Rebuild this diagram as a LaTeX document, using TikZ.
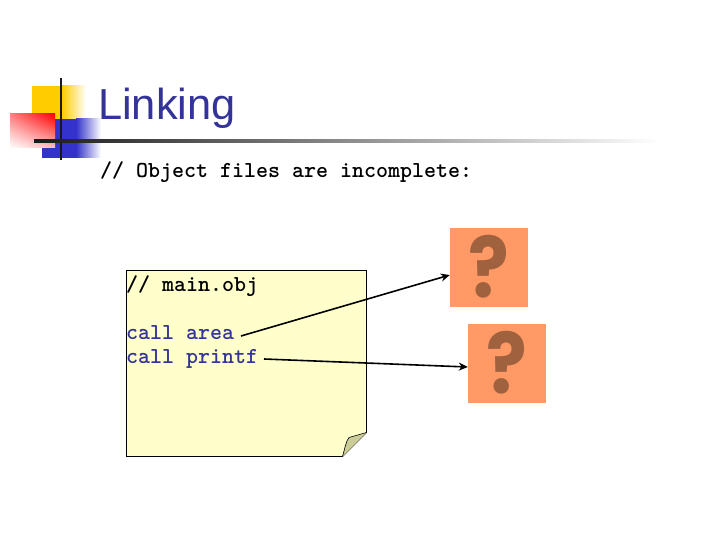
\documentclass[tikz,border=0pt]{standalone}
\usepackage{fontspec}
\setmainfont{Liberation Sans}
\newfontfamily\qfont{Poppins}
\usetikzlibrary{arrows.meta,shadings,calc}
\definecolor{titleblue}{HTML}{333399}
\definecolor{squareyellow}{HTML}{FFCC00}
\definecolor{squareblue}{HTML}{3333CC}
\definecolor{noteyellow}{HTML}{FFFFCC}
\definecolor{foldgrey}{HTML}{CCCC99}
\definecolor{boxorange}{HTML}{FF9966}
\definecolor{markbrown}{HTML}{A0613F}
\tikzset{
  x=1pt,y=-1pt,
  monotext/.style={inner sep=0pt,anchor=base west,font=\ttfamily\bfseries\fontsize{22.86}{22.86}\selectfont},
  qbox/.style={fill=boxorange,inner sep=0pt,minimum width=78pt,minimum height=79pt},
  qmark/.style={inner sep=0pt,text=markbrown,xscale=0.9,font=\qfont\bfseries\fontsize{84}{84}\selectfont},
  link/.style={line width=1.6pt,-{Stealth[length=9pt,width=8pt]}}
}
\begin{document}
\begin{tikzpicture}
\useasboundingbox (0,0) rectangle (720,540);
\fill[white] (0,0) rectangle (720,540);
% logo squares
\fill[squareyellow] (32,86) rectangle (62,119);
\shade[left color=squareyellow,right color=white] (62,86) rectangle (86,119);
\fill[squareblue] (42,119) rectangle (76,158);
\shade[left color=squareblue,right color=white] (76,119) rectangle (101,158);
\shade[shading=bilinear interpolation,lower left=white,upper left=white!50!red,upper right=red,lower right=white!75!red] (10,114) rectangle (55,148);
\draw[line width=2.5pt,black!90] (61,78) -- (61,160);
\shade[left color=black!90,right color=white] (34,139.8) rectangle (660,142.4);
% title
\node[inner sep=0pt,anchor=base west,text=titleblue,font=\fontsize{43.4}{43.4}\selectfont] (title) at (98,120) {Linking};
\node[monotext] (sub) at (100,178) {// Object files are incomplete:};
% note
\fill[noteyellow] (126.5,270.5) -- (366.5,270.5) -- (366.5,432.5) -- (342.5,456.5) -- (126.5,456.5) -- cycle;
\draw[line width=0.8pt] (126.5,270.5) -- (366.5,270.5) -- (366.5,432.5) -- (342.5,456.5) -- (126.5,456.5) -- cycle;
\fill[foldgrey] (366.5,432.5) -- (342.5,456.5) .. controls (345,448) and (346,441) .. (349,437.5) -- cycle;
\draw[line width=0.6pt] (366.5,432.5) -- (349,437.5) .. controls (346,441) and (345,448) .. (342.5,456.5);
\node[monotext] (objname) at (126,291) {// main.obj};
\node[monotext,text=titleblue] (callarea) at (126,339) {call area};
\node[monotext,text=titleblue] (callprintf) at (126,363) {call printf};
% boxes
\node[qbox] (qa) at (489,267.5) {};
\node[qbox] (qb) at (507,363.5) {};
\node[qmark] (marka) at (489,267) {?};
\node[qmark] (markb) at (507,363) {?};
% connectors
\coordinate (fromarea) at (241,336);
\coordinate (fromprintf) at (264,359);
\draw[link] (fromarea) -- (qa.west |- 0,275);
\draw[link] (fromprintf) -- (qb.west |- 0,367);
\end{tikzpicture}
\end{document}
